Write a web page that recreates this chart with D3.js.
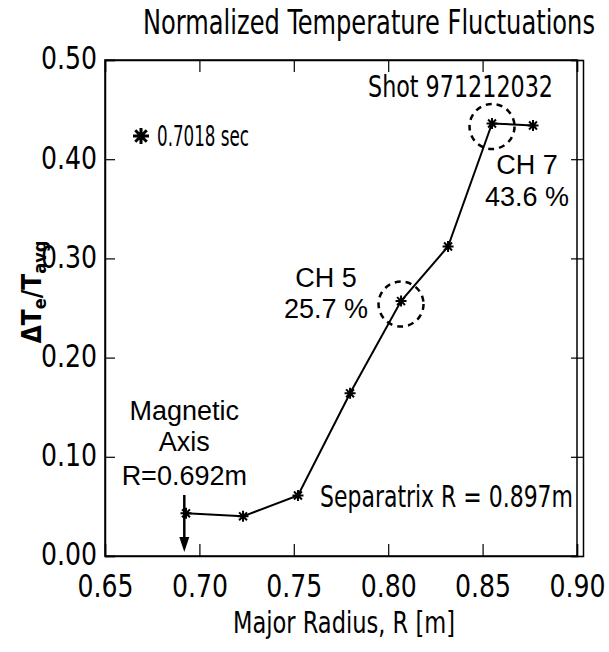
<!DOCTYPE html>
<html><head><meta charset="utf-8">
<script src="https://cdn.jsdelivr.net/npm/d3@7"></script>
<style>body{margin:0;background:#fff}svg{display:block}</style></head>
<body><svg id="c" width="609" height="652"></svg>
<script>
// ---- data ----
const xTickValues = [0.65, 0.70, 0.75, 0.80, 0.85, 0.90];
const xTickLabels = ["0.65", "0.70", "0.75", "0.80", "0.85", "0.90"];
const yTickValues = [0.00, 0.10, 0.20, 0.30, 0.40, 0.50];
const yTickLabels = ["0.00", "0.10", "0.20", "0.30", "0.40", "0.50"];
const radius = [0.6929, 0.7231, 0.7522, 0.7798, 0.8068, 0.8317, 0.8550, 0.8767];
const dTe = [0.043, 0.040, 0.061, 0.164, 0.257, 0.312, 0.436, 0.434];
const magAxisR = 0.692;
const separatrixR = 0.897;
const highlighted = [4, 6]; // CH 5 and CH 7 indices
const chLabels = ["CH 5", "CH 7"];
const chPct = ["25.7 %", "43.6 %"];

// ---- layout ----
const L = 105, R = 577, T = 60, B = 556;
const x = d3.scaleLinear().domain([0.65, 0.90]).range([L, R]);
const y = d3.scaleLinear().domain([0, 0.5]).range([B, T]);
const svg = d3.select("#c");
const hershey = '"Liberation Sans Narrow","DejaVu Sans Condensed","Arial Narrow","DejaVu Sans",sans-serif';
const arial = '"Liberation Sans",Arial,Helvetica,sans-serif';

svg.append("rect").attr("width", 609).attr("height", 652).attr("fill", "#fff");

// title
svg.append("text").attr("x", 143).attr("y", 34).attr("textLength", 452).attr("lengthAdjust", "spacingAndGlyphs")
  .attr("font-family", hershey).attr("font-size", 33).text("Normalized Temperature Fluctuations");

// box
svg.append("rect").attr("x", L).attr("y", T).attr("width", R - L).attr("height", B - T)
  .attr("fill", "none").attr("stroke", "#000").attr("stroke-width", 1.5);

const xMinor = d3.range(0, 26).map(i => 0.65 + i * 0.01);
const yMinor = d3.range(0, 51).map(i => i * 0.01);

// bottom axis (ticks inward)
const gB = svg.append("g").attr("transform", `translate(0,${B})`);
gB.call(d3.axisBottom(x).tickValues(xMinor).tickSize(-6).tickFormat(""));
gB.call(d3.axisBottom(x).tickValues(xTickValues).tickSize(-12).tickPadding(18)
  .tickFormat((d, i) => xTickLabels[i]));
// top axis
const gT = svg.append("g").attr("transform", `translate(0,${T})`);
gT.call(d3.axisTop(x).tickValues(xMinor).tickSize(-6).tickFormat(""));
gT.call(d3.axisTop(x).tickValues(xTickValues).tickSize(-12).tickFormat(""));
// left axis
const gL = svg.append("g").attr("transform", `translate(${L},0)`);
gL.call(d3.axisLeft(y).tickValues(yMinor).tickSize(-5).tickFormat(""));
gL.call(d3.axisLeft(y).tickValues(yTickValues).tickSize(-10).tickPadding(8)
  .tickFormat((d, i) => yTickLabels[i]));
// right double axis
const gR = svg.append("g").attr("transform", `translate(${R + 6},0)`);
gR.call(d3.axisLeft(y).tickValues(yMinor).tickSize(6).tickFormat(""));
gR.call(d3.axisLeft(y).tickValues(yTickValues).tickSize(12).tickFormat(""));

svg.selectAll(".domain").attr("stroke", "#000").attr("stroke-width", 1.5);
svg.selectAll(".tick line").attr("stroke", "#000").attr("stroke-width", 1.2);
svg.selectAll(".tick text").attr("font-family", hershey).attr("font-size", 32).attr("fill", "#000")
  .attr("textLength", 56).attr("lengthAdjust", "spacingAndGlyphs");
gL.selectAll(".tick text").attr("dy", "0.28em");

// axis titles
svg.append("text").attr("x", 233).attr("y", 633).attr("textLength", 222).attr("lengthAdjust", "spacingAndGlyphs")
  .attr("font-family", hershey).attr("font-size", 30).text("Major Radius, R [m]");
const yt = svg.append("text").attr("transform", "translate(41,292) rotate(-90)").attr("text-anchor", "middle")
  .attr("font-family", hershey).attr("font-size", 26).attr("font-weight", "bold");
yt.append("tspan").text("ΔT");
yt.append("tspan").attr("font-size", 18).attr("dy", 5).text("e");
yt.append("tspan").attr("dy", -5).text("/T");
yt.append("tspan").attr("font-size", 18).attr("dy", 5).text("avg");

// line + markers
const line = d3.line().x((d, i) => x(radius[i])).y((d, i) => y(dTe[i]));
svg.append("path").datum(dTe).attr("d", line).attr("fill", "none").attr("stroke", "#000").attr("stroke-width", 2);
function star(s) {
  const a = s * 0.72;
  return `M${-s},0L${s},0M0,${-s}L0,${s}M${-a},${-a}L${a},${a}M${-a},${a}L${a},${-a}`;
}
svg.append("g").selectAll("path").data(dTe).join("path")
  .attr("transform", (d, i) => `translate(${x(radius[i])},${y(d)})`)
  .attr("d", star(5.5)).attr("stroke", "#000").attr("stroke-width", 2).attr("fill", "none");

// dashed circles
svg.append("g").selectAll("circle").data(highlighted).join("circle")
  .attr("cx", i => x(radius[i])).attr("cy", i => y(dTe[i]) + 3).attr("r", 22.5)
  .attr("fill", "none").attr("stroke", "#000").attr("stroke-width", 2.5).attr("stroke-dasharray", "6,5");

// CH labels
const chPos = [{x: 326, y1: 287, y2: 318}, {x: 527, y1: 174, y2: 206}];
chPos.forEach((p, k) => {
  svg.append("text").attr("x", p.x).attr("y", p.y1).attr("text-anchor", "middle")
    .attr("font-family", arial).attr("font-size", 27).text(chLabels[k]);
  svg.append("text").attr("x", p.x).attr("y", p.y2).attr("text-anchor", "middle")
    .attr("font-family", arial).attr("font-size", 27).text(chPct[k]);
});

// Magnetic axis
const mx = x(magAxisR);
["Magnetic", "Axis", "R=" + magAxisR.toFixed(3) + "m"].forEach((t, i) => {
  svg.append("text").attr("x", mx).attr("y", [420, 451, 485][i]).attr("text-anchor", "middle")
    .attr("font-family", arial).attr("font-size", 27).text(t);
});
svg.append("line").attr("x1", mx).attr("x2", mx).attr("y1", 495).attr("y2", 540)
  .attr("stroke", "#000").attr("stroke-width", 2.5);
svg.append("path").attr("d", `M${mx - 5},537L${mx + 5},537L${mx},552Z`).attr("fill", "#000");

// Separatrix / shot / legend
svg.append("text").attr("x", 320).attr("y", 507).attr("textLength", 253).attr("lengthAdjust", "spacingAndGlyphs")
  .attr("font-family", hershey).attr("font-size", 30).text("Separatrix R = " + separatrixR.toFixed(3) + "m");
svg.append("text").attr("x", 368).attr("y", 97).attr("textLength", 185).attr("lengthAdjust", "spacingAndGlyphs")
  .attr("font-family", hershey).attr("font-size", 30).text("Shot 971212032");
svg.append("path").attr("transform", "translate(141,136)").attr("d", star(8))
  .attr("stroke", "#000").attr("stroke-width", 3).attr("fill", "none");
svg.append("text").attr("x", 157).attr("y", 146).attr("textLength", 92).attr("lengthAdjust", "spacingAndGlyphs")
  .attr("font-family", hershey).attr("font-size", 28).text("0.7018 sec");
</script></body></html>
